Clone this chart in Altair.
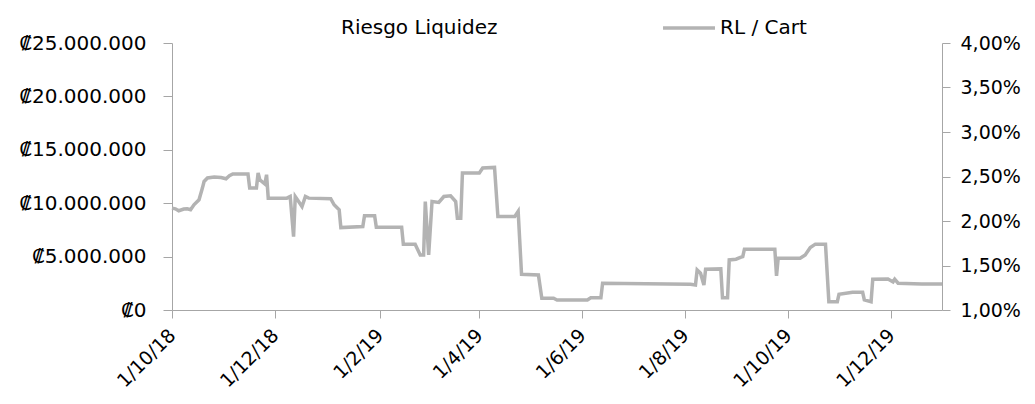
import altair as alt
import pandas as pd

# ---- data ----
dates = [
    "2018-10-01", "2018-10-03", "2018-10-05", "2018-10-08", "2018-10-10", "2018-10-12",
    "2018-10-14", "2018-10-17", "2018-10-19", "2018-10-20", "2018-10-22", "2018-10-26",
    "2018-10-30", "2018-11-02", "2018-11-04", "2018-11-06", "2018-11-15", "2018-11-16",
    "2018-11-20", "2018-11-21", "2018-11-22", "2018-11-25", "2018-11-26", "2018-11-27",
    "2018-12-08", "2018-12-10", "2018-12-12", "2018-12-13", "2018-12-17", "2018-12-19",
    "2018-12-21", "2019-01-03", "2019-01-05", "2019-01-08", "2019-01-09", "2019-01-22",
    "2019-01-23", "2019-01-29", "2019-01-30", "2019-02-14", "2019-02-15", "2019-02-22",
    "2019-02-25", "2019-02-27", "2019-02-28", "2019-03-02", "2019-03-04", "2019-03-08",
    "2019-03-11", "2019-03-15", "2019-03-18", "2019-03-19", "2019-03-21", "2019-03-22",
    "2019-04-01", "2019-04-03", "2019-04-10", "2019-04-12", "2019-04-22", "2019-04-24",
    "2019-04-26", "2019-05-06", "2019-05-08", "2019-05-15", "2019-05-17", "2019-06-04",
    "2019-06-06", "2019-06-12", "2019-06-13", "2019-08-04", "2019-08-07", "2019-08-08",
    "2019-08-10", "2019-08-12", "2019-08-13", "2019-08-22", "2019-08-23", "2019-08-26",
    "2019-08-27", "2019-08-31", "2019-09-03", "2019-09-04", "2019-09-05", "2019-09-23",
    "2019-09-24", "2019-09-25", "2019-10-08", "2019-10-11", "2019-10-14", "2019-10-17",
    "2019-10-23", "2019-10-25", "2019-10-30", "2019-10-31", "2019-11-08", "2019-11-14",
    "2019-11-15", "2019-11-19", "2019-11-20", "2019-11-29", "2019-12-02", "2019-12-03",
    "2019-12-05", "2019-12-19", "2019-12-31",
]
rl_pct = [
    2.145, 2.137, 2.115, 2.134, 2.137, 2.126,
    2.182, 2.238, 2.370, 2.444, 2.483, 2.494,
    2.489, 2.475, 2.508, 2.528, 2.528, 2.370,
    2.370, 2.539, 2.463, 2.415, 2.520, 2.257,
    2.257, 2.275, 1.825, 2.275, 2.163, 2.275,
    2.257, 2.250, 2.182, 2.126, 1.926, 1.938,
    2.058, 2.058, 1.931, 1.931, 1.740, 1.740,
    1.619, 1.619, 2.219, 1.619, 2.219, 2.208,
    2.275, 2.283, 2.219, 2.032, 2.032, 2.539,
    2.539, 2.595, 2.602, 2.050, 2.050, 2.107,
    1.402, 1.394, 1.132, 1.132, 1.113, 1.113,
    1.138, 1.138, 1.301, 1.289, 1.281, 1.450,
    1.413, 1.281, 1.458, 1.462, 1.138, 1.138,
    1.563, 1.571, 1.593, 1.600, 1.683, 1.683,
    1.383, 1.582, 1.582, 1.619, 1.701, 1.740,
    1.740, 1.093, 1.093, 1.177, 1.199, 1.199,
    1.113, 1.093, 1.346, 1.349, 1.315, 1.346,
    1.301, 1.293, 1.293,
]
series_names = ["Riesgo Liquidez", "RL / Cart"]
x_ticks = ["2018-10-01", "2018-12-01", "2019-02-01", "2019-04-01",
           "2019-06-01", "2019-08-01", "2019-10-01", "2019-12-01"]
x_domain = ["2018-10-01", "2019-12-31"]
left_ticks = [0, 5000000, 10000000, 15000000, 20000000, 25000000]
right_ticks = [1.0, 1.5, 2.0, 2.5, 3.0, 3.5, 4.0]


def ms(s):
    return int(pd.Timestamp(s, tz="UTC").value // 10**6)


FONT = "DejaVu Sans"
FS = 20
AXC = "#a6a6a6"
LINEC = "#b3b3b3"

df = pd.DataFrame({"t": [ms(d) for d in dates], "rl": rl_pct, "serie": series_names[1]})
df_left = pd.DataFrame({"v": left_ticks})

x_enc = alt.X(
    "t:T",
    scale=alt.Scale(type="utc", domain=[ms(d) for d in x_domain], nice=False),
    axis=alt.Axis(
        title=None, values=[ms(v) for v in x_ticks],
        labelExpr="utcFormat(datum.value, '%-d/%-m/%y')",
        labelAngle=315, labelAlign="right", labelBaseline="middle",
        labelPadding=14, tickSize=8, labelOverlap=False, labelFlush=False,
        labelFontSize=19, grid=False,
    ),
)

line = alt.Chart(df).mark_line(strokeWidth=3.5).encode(
    x=x_enc,
    y=alt.Y(
        "rl:Q",
        scale=alt.Scale(domain=[1, 4], nice=False, zero=False),
        axis=alt.Axis(
            orient="right", title=None, values=right_ticks,
            labelExpr="replace(format(datum.value, '.2f'), '.', ',') + '%'",
            tickSize=8, labelPadding=10, labelFontSize=19, grid=False,
        ),
    ),
    color=alt.Color(
        "serie:N",
        scale=alt.Scale(domain=series_names, range=["transparent", LINEC]),
        legend=alt.Legend(
            title=None, orient="none", legendX=110, legendY=-43,
            direction="horizontal", symbolType="stroke", symbolSize=2700,
            symbolStrokeWidth=3.5, labelOffset=3, columnPadding=158,
            labelFont=FONT, labelFontSize=FS, labelColor="#000000", labelLimit=400,
        ),
    ),
)

left = alt.Chart(df_left).mark_point(opacity=0).encode(
    y=alt.Y(
        "v:Q",
        scale=alt.Scale(domain=[0, 25000000], nice=False),
        axis=alt.Axis(
            orient="left", title=None, values=left_ticks,
            labelExpr="'₡' + replace(format(datum.value, ','), regexp(',', 'g'), '.')",
            tickSize=9, labelPadding=17, grid=False,
        ),
    ),
)

chart = (
    alt.layer(left, line)
    .resolve_scale(y="independent")
    .properties(
        width=770, height=267,
        autosize=alt.AutoSizeParams(type="none"),
        padding={"left": 164, "top": 35, "right": 85, "bottom": 86},
        background="white",
    )
    .configure_axis(
        labelFont=FONT, labelFontSize=FS, labelColor="#000000",
        domainColor=AXC, tickColor=AXC, domainWidth=1, tickWidth=1, grid=False,
    )
    .configure_view(stroke=None)
)

chart.save("out.html", embed_options={"renderer": "svg", "actions": False})
